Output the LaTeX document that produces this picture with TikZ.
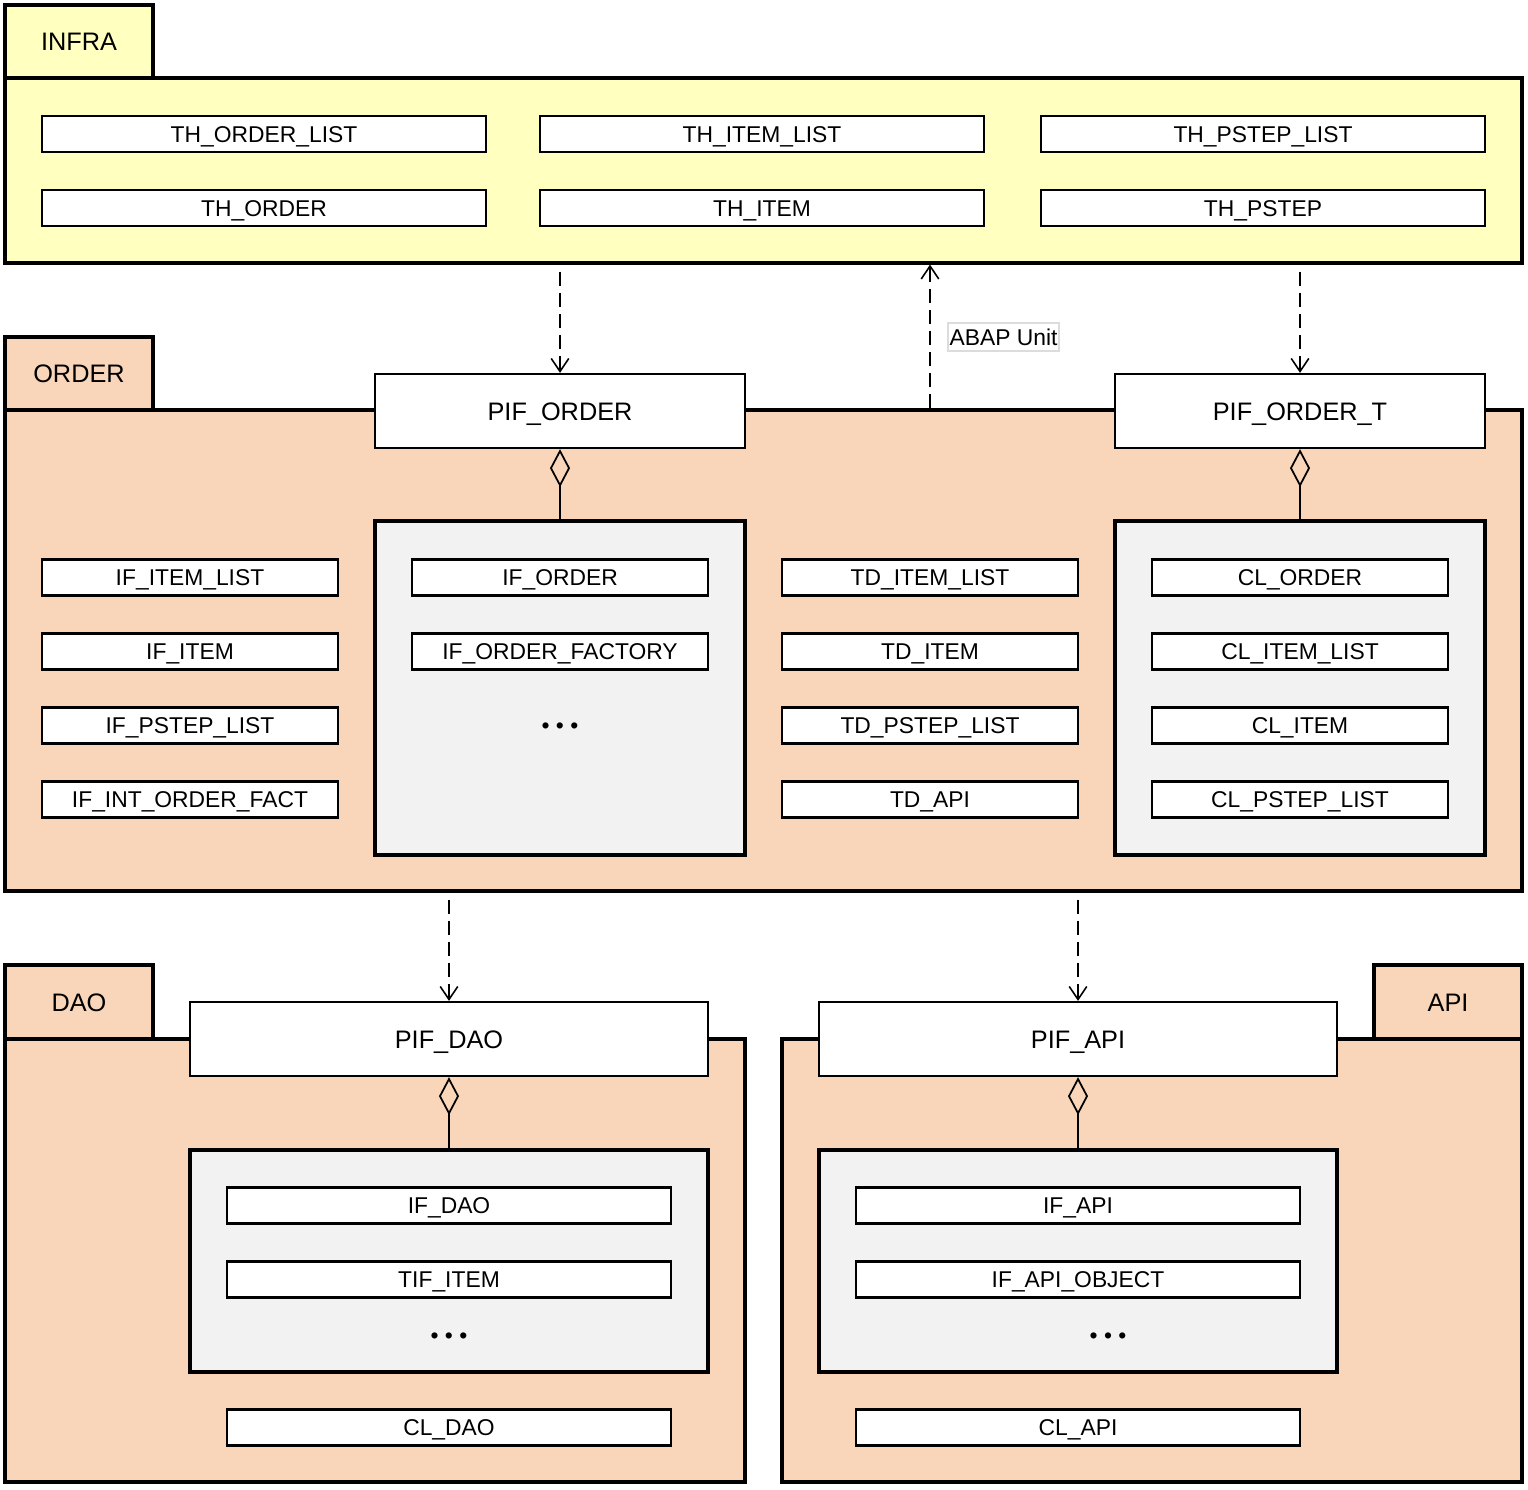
\documentclass[tikz,border=0pt]{standalone}
\usepackage{fontspec}
\setmainfont{Liberation Sans}
\usepackage{tikz}
\usetikzlibrary{positioning}
\usetikzlibrary{arrows.meta}

\definecolor{infrayellow}{HTML}{FFFFC0}
\definecolor{pkgpeach}{HTML}{F9D6B9}
\definecolor{boxgrey}{HTML}{F2F2F2}
\definecolor{labelframe}{HTML}{DCDCDC}

\tikzset{
  pkg/.style={draw, line width=0.9pt, inner sep=0pt},
  tab/.style={pkg, minimum width=1.48cm, minimum height=0.73cm, text height=5.16pt, text depth=0pt, font=\fontsize{7.2}{8}\selectfont},
  cls/.style={draw, fill=white, line width=0.6pt, minimum width=4.44cm, minimum height=0.36cm, inner sep=0pt, text height=4.65pt, text depth=0pt, font=\fontsize{6.5}{7.5}\selectfont},
  ifcls/.style={cls, minimum width=2.96cm},
  pif/.style={draw, fill=white, line width=0.65pt, minimum height=0.74cm, inner sep=0pt, text height=5.16pt, text depth=0pt, font=\fontsize{7.2}{8}\selectfont},
  grp/.style={draw, fill=boxgrey, line width=0.9pt, inner sep=0pt},
  etc/.style={inner sep=0pt, font=\fontsize{6.5}{7.5}\selectfont},
  abaplabel/.style={draw=labelframe, fill=white, line width=0.3pt, minimum width=1.11cm, minimum height=0.28cm, inner sep=0pt, text height=4.65pt, text depth=0pt, font=\fontsize{6.5}{7.5}\selectfont},
  dep/.style={dash pattern=on 4pt off 2pt, line width=0.45pt, -{Straight Barb[length=3.7pt,width=5pt]}},
  aggr/.style={line width=0.5pt, -{Diamond[open, length=10.8pt, width=5.7pt]}}
}

\begin{document}
\begin{tikzpicture}[x=1cm, y=-1cm]
\useasboundingbox (0,0) rectangle (15.28,14.89);
\fill[white] (0,0) rectangle (15.28,14.89);
% INFRA package
\node[pkg, fill=infrayellow, minimum width=15.17cm, minimum height=1.85cm] (infra) at (7.635,1.705) {};
\node[tab, fill=infrayellow] (infra_tab) at (0.79,0.415) {INFRA};
\node[cls] (th_order_list) at (2.64,1.34) {TH\_ORDER\_LIST};
\node[cls] (th_item_list) at (7.62,1.34) {TH\_ITEM\_LIST};
\node[cls] (th_pstep_list) at (12.63,1.34) {TH\_PSTEP\_LIST};
\node[cls] (th_order) at (2.64,2.08) {TH\_ORDER};
\node[cls] (th_item) at (7.62,2.08) {TH\_ITEM};
\node[cls] (th_pstep) at (12.63,2.08) {TH\_PSTEP};

% ORDER package
\node[pkg, fill=pkgpeach, minimum width=15.17cm, minimum height=4.81cm] (order) at (7.635,6.505) {};
\node[tab, fill=pkgpeach] (order_tab) at (0.79,3.735) {ORDER};
\node[pif, minimum width=3.70cm] (pif_order) at (5.60,4.11) {PIF\_ORDER};
\node[pif, minimum width=3.70cm] (pif_order_t) at (13.00,4.11) {PIF\_ORDER\_T};
\node[grp, minimum width=3.70cm, minimum height=3.34cm] (order_grp) at (5.60,6.88) {};
\node[grp, minimum width=3.70cm, minimum height=3.34cm] (order_t_grp) at (13.00,6.88) {};
% interfaces
\node[ifcls] (if_item_list) at (1.90,5.775) {IF\_ITEM\_LIST};
\node[ifcls] (if_item) at (1.90,6.515) {IF\_ITEM};
\node[ifcls] (if_pstep_list) at (1.90,7.255) {IF\_PSTEP\_LIST};
\node[ifcls] (if_int_order_fact) at (1.90,7.995) {IF\_INT\_ORDER\_FACT};
\node[ifcls] (if_order) at (5.60,5.775) {IF\_ORDER};
\node[ifcls] (if_order_factory) at (5.60,6.515) {IF\_ORDER\_FACTORY};
\node[etc] (order_more) at (5.60,7.28) {\textbullet\ \textbullet\ \textbullet};
% test doubles
\node[ifcls] (td_item_list) at (9.30,5.775) {TD\_ITEM\_LIST};
\node[ifcls] (td_item) at (9.30,6.515) {TD\_ITEM};
\node[ifcls] (td_pstep_list) at (9.30,7.255) {TD\_PSTEP\_LIST};
\node[ifcls] (td_api) at (9.30,7.995) {TD\_API};
% classes
\node[ifcls] (cl_order) at (13.00,5.775) {CL\_ORDER};
\node[ifcls] (cl_item_list) at (13.00,6.515) {CL\_ITEM\_LIST};
\node[ifcls] (cl_item) at (13.00,7.255) {CL\_ITEM};
\node[ifcls] (cl_pstep_list) at (13.00,7.995) {CL\_PSTEP\_LIST};

% DAO package
\node[pkg, fill=pkgpeach, minimum width=7.40cm, minimum height=4.43cm] (dao) at (3.75,12.605) {};
\node[tab, fill=pkgpeach, minimum height=0.74cm] (dao_tab) at (0.79,10.02) {DAO};
\node[pif, minimum width=5.18cm] (pif_dao) at (4.49,10.39) {PIF\_DAO};
\node[grp, minimum width=5.18cm, minimum height=2.22cm] (dao_grp) at (4.49,12.61) {};
\node[cls] (if_dao) at (4.49,12.055) {IF\_DAO};
\node[cls] (tif_item) at (4.49,12.795) {TIF\_ITEM};
\node[etc] (dao_more) at (4.49,13.38) {\textbullet\ \textbullet\ \textbullet};
\node[cls] (cl_dao) at (4.49,14.275) {CL\_DAO};

% API package
\node[pkg, fill=pkgpeach, minimum width=7.40cm, minimum height=4.43cm] (api) at (11.52,12.605) {};
\node[tab, fill=pkgpeach, minimum height=0.74cm] (api_tab) at (14.48,10.02) {API};
\node[pif, minimum width=5.18cm] (pif_api) at (10.78,10.39) {PIF\_API};
\node[grp, minimum width=5.18cm, minimum height=2.22cm] (api_grp) at (10.78,12.61) {};
\node[cls] (if_api) at (10.78,12.055) {IF\_API};
\node[cls] (if_api_object) at (10.78,12.795) {IF\_API\_OBJECT};
\node[etc] (api_more) at (11.08,13.38) {\textbullet\ \textbullet\ \textbullet};
\node[cls] (cl_api) at (10.78,14.275) {CL\_API};

% aggregations
\draw[aggr] (order_grp) -- (pif_order);
\draw[aggr] (order_t_grp) -- (pif_order_t);
\draw[aggr] (dao_grp) -- (pif_dao);
\draw[aggr] (api_grp) -- (pif_api);

% dependencies
\draw[dep, shorten <=2pt] (infra.south -| pif_order) -- (pif_order);
\draw[dep, shorten <=2pt] (infra.south -| pif_order_t) -- (pif_order_t);
\draw[dep] (td_item_list |- order.north) -- (td_item_list |- infra.south);
\node[abaplabel] (abap_unit) at (10.035,3.37) {ABAP Unit};
\draw[dep, shorten <=2pt] (order.south -| pif_dao) -- (pif_dao);
\draw[dep, shorten <=2pt] (order.south -| pif_api) -- (pif_api);
\end{tikzpicture}
\end{document}
